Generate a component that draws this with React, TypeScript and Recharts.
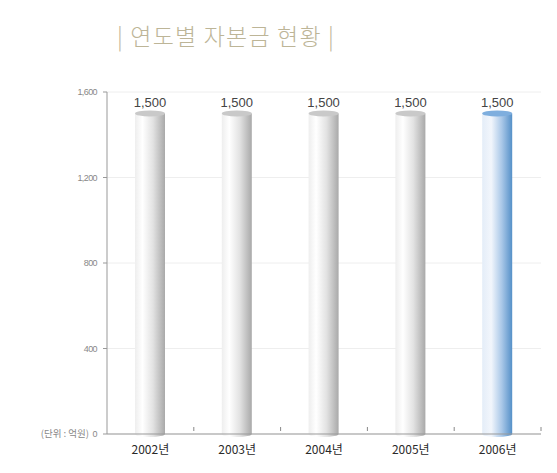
import React from "react";
import { BarChart, Bar, XAxis, YAxis, CartesianGrid, LabelList, Cell } from "recharts";

const years = ["2002년", "2003년", "2004년", "2005년", "2006년"];
const capital = [1500, 1500, 1500, 1500, 1500];
const yTicks = [0, 400, 800, 1200, 1600];
const highlight = [false, false, false, false, true];

const data = years.map((y, i) => ({ name: y, value: capital[i], hl: highlight[i] }));

const Cylinder = (props: any) => {
  const { x, y, width, height, payload } = props;
  const id = payload.hl ? "gradBlue" : "gradGray";
  const top = payload.hl ? "#7eaede" : "#c9c9c9";
  const ry = 3;
  const cx = x + width / 2;
  return (
    <g>
      <path
        d={`M${x},${y} L${x},${y + height} A${width / 2},${ry} 0 0 0 ${x + width},${y + height} L${x + width},${y} Z`}
        fill={`url(#${id})`}
      />
      <ellipse cx={cx} cy={y} rx={width / 2} ry={ry} fill={top} />
    </g>
  );
};

const XTick = (props: any) => {
  const { x, y, payload } = props;
  const half = 86.8 / 2;
  return (
    <g>
      <line x1={x + half} x2={x + half} y1={y - 11} y2={y - 15} stroke="#888" />
      <text
        x={x}
        y={y + 12}
        textAnchor="middle"
        fontSize={12}
        fill="#2a2a2a"
        fontFamily="Noto Sans CJK KR"
      >
        {payload.value}
      </text>
    </g>
  );
};

const YTick = (props: any) => {
  const { x, y, payload } = props;
  return (
    <g>
      <text
        x={x - 4}
        y={y + 3}
        textAnchor="end"
        fontSize={9}
        fill="#888"
        fontFamily="Liberation Sans"
        letterSpacing={-0.6}
      >
        {payload.value.toLocaleString("en-US")}
      </text>
      {payload.value === 0 && (
        <text
          x={x - 12}
          y={y + 3}
          textAnchor="end"
          fontSize={9.5}
          fill="#888"
          fontFamily="Noto Sans CJK KR"
        >
          (단위 : 억원)
        </text>
      )}
    </g>
  );
};

export default function App() {
  return (
    <div style={{ position: "absolute", left: 0, top: 0, width: 557, height: 473, background: "#fff" }}>
      <div
        style={{
          position: "absolute",
          left: 117,
          top: 18,
          fontSize: 23,
          color: "#bdb597",
          fontFamily: "Noto Sans CJK KR",
          fontWeight: 300,
          whiteSpace: "nowrap",
          letterSpacing: 1.2,
        }}
      >
        | 연도별 자본금 현황 |
      </div>
      <BarChart
        width={557}
        height={473}
        data={data}
        margin={{ top: 92, right: 16, left: 0, bottom: 9 }}
        barSize={30}
      >
        <defs>
          <linearGradient id="gradGray" x1="0" y1="0" x2="1" y2="0">
            <stop offset="0%" stopColor="#eeeeee" />
            <stop offset="25%" stopColor="#ffffff" />
            <stop offset="60%" stopColor="#e2e2e2" />
            <stop offset="100%" stopColor="#a9a9a9" />
          </linearGradient>
          <linearGradient id="gradBlue" x1="0" y1="0" x2="1" y2="0">
            <stop offset="0%" stopColor="#e4edf8" />
            <stop offset="30%" stopColor="#f2f6fc" />
            <stop offset="65%" stopColor="#aac8e8" />
            <stop offset="100%" stopColor="#5590c8" />
          </linearGradient>
        </defs>
        <CartesianGrid horizontal vertical={false} stroke="#eeeeee" />
        <XAxis
          dataKey="name"
          height={30}
          axisLine={{ stroke: "#999" }}
          tickLine={false}
          tick={<XTick />}
        />
        <YAxis
          width={107}
          domain={[0, 1600]}
          ticks={yTicks}
          axisLine={{ stroke: "#999" }}
          tickLine={{ stroke: "#999" }}
          tickSize={4}
          tick={<YTick />}
        />
        <Bar dataKey="value" shape={<Cylinder />} isAnimationActive={false}>
          {data.map((d, i) => (
            <Cell key={i} />
          ))}
          <LabelList
            dataKey="value"
            position="top"
            offset={6}
            formatter={(v: any) => Number(v).toLocaleString("en-US")}
            fill="#444"
            fontSize={13}
            fontFamily="Liberation Sans"
          />
        </Bar>
      </BarChart>
    </div>
  );
}
